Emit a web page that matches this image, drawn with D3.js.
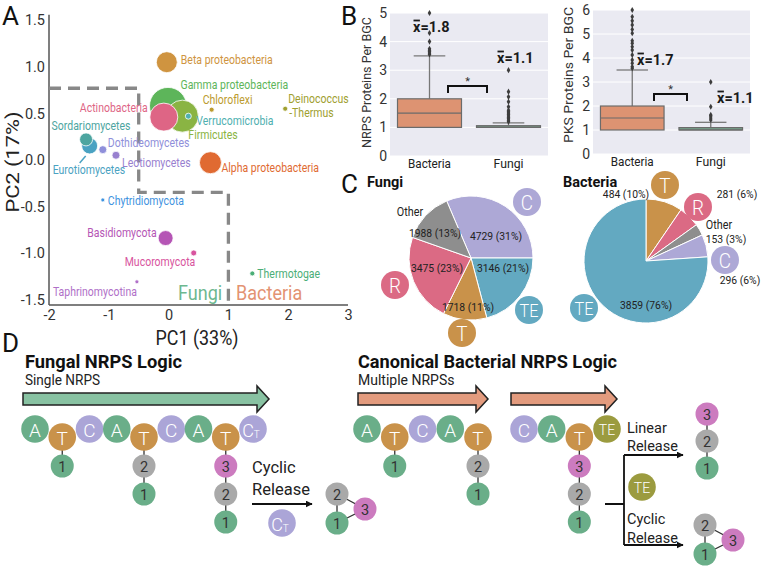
<!DOCTYPE html>
<html><head><meta charset="utf-8">
<script src="https://cdn.jsdelivr.net/npm/d3@7/dist/d3.min.js"></script>
<style>
html,body{margin:0;padding:0;background:#fff;}
svg{display:block;font-family:Roboto,"Noto Sans",sans-serif;}
</style></head>
<body>
<svg id="fig" width="762" height="567"></svg>
<script>
// ================= DATA =================
// Panel A : PCA of NRPS features per taxon
const taxa = ["Beta proteobacteria","Gamma proteobacteria","Firmicutes","Actinobacteria","Verrucomicrobia",
  "Chloroflexi","Deinococcus-Thermus","Alpha proteobacteria","Eurotiomycetes","Sordariomycetes",
  "Dothideomycetes","Leotiomycetes","Chytridiomycota","Basidiomycota","Mucoromycota","Thermotogae","Taphrinomycotina"];
const pc1 = [-0.03,-0.01,0.23,-0.08,0.33,0.72,1.95,0.70,-1.32,-1.38,-1.10,-0.88,-1.10,-0.05,0.42,1.40,-0.53];
const pc2 = [1.05,0.58,0.47,0.46,0.47,0.54,0.55,-0.03,0.15,0.22,0.11,0.05,-0.43,-0.84,-1.00,-1.22,-1.31];
const bgcCount = [441,1369,1024,784,36,25,25,484,256,169,64,64,16,225,36,25,16];
const pcaXTicks = [-2,-1,0,1,2,3];
const pcaYTicks = [-1.5,-1,-0.5,0,0.5,1,1.5];
const boundaryPC1 = [-2,-0.5,-0.5,1,1];
const boundaryPC2 = [0.77,0.77,-0.35,-0.35,-1.56];

// Panel B : proteins per BGC
const boxGroups = ["Bacteria","Fungi"];
const nrpsQ1 = [1,1], nrpsMedian = [1.5,1.0], nrpsQ3 = [2,1.06], nrpsWhiskerHigh = [3.5,1.16], nrpsMean = [1.8,1.1];
const nrpsOutliersBacteria = [3.55,3.6,3.65,3.7,3.75,4.0,4.3,5.0];
const nrpsOutliersFungi = [1.2,1.25,1.3,1.35,1.4,1.45,1.5,1.55,1.6,1.72,1.9,2.07,2.25,3.0];
const pksQ1 = [1,1], pksMedian = [1.5,1.0], pksQ3 = [2,1.1], pksWhiskerHigh = [3.5,1.32], pksMean = [1.7,1.1];
const pksOutliersBacteria = [3.57,3.64,3.78,3.92,4.13,4.33,4.47,4.61,4.72,5.03,5.19,5.38,5.55,5.72,6.0];
const pksOutliersFungi = [1.42,1.5,1.58,1.63,1.97,3.0];

// Panel C : termination domains
const fungiTermLabels = ["C","TE","T","R","Other"];
const fungiTermCounts = [4729,3146,1718,3475,1988];
const bactTermLabels = ["T","R","Other","C","TE"];
const bactTermCounts = [484,281,153,296,3859];

// Panel D : NRPS logic
const fungalDomains = ["A","T","C","A","T","C","A","T","CT"];
const fungalChains = [[1],[2,1],[3,2,1]];
const bactModule1 = ["A","T","C","A","T"];
const bactChains1 = [[1],[2,1]];
const bactModule2 = ["C","A","T","TE"];
const bactChains2 = [[3,2,1]];
const linearProduct = [3,2,1];
const cyclicProduct = [2,1,3];

// ================= STYLE / LAYOUT =================
const taxonColor = ["#CF9440","#5DB55A","#8AB443","#DE6585","#4FB0B0","#BC9B2F","#A0A030","#E06A32",
  "#4AA2C2","#4DA5A0","#8F8FDA","#9880CF","#3F93E0","#B555B5","#D8549E","#4BAE77","#B070C8"];
const labelDx = [14,12.5,6,-16,8,-9,3,11,-37,-34.5,5,6,5,-9,-69,5,-84];
const labelDy = [-3,-21,18.5,-9.5,4.5,-10,-10,5,24,-13.5,-7,7,1,-5,9,0,10];
const labelAnchor = ["start","start","start","end","start","start","start","start","start","start","start","start","start","end","start","start","start"];
const termColor = {C:"#ADA8D6",TE:"#63A9C1",T:"#C9924A",R:"#DB6A84",Other:"#8E8E8E"};
const domColor = {A:"#6AAE89",T:"#C9924A",C:"#ABA5D7",CT:"#ABA5D7",TE:"#9B9B3F"};
const numColor = {1:"#6AAE89",2:"#A9A9A9",3:"#CC7BBF"};

const svg = d3.select("#fig");
svg.append("rect").attr("width",762).attr("height",567).attr("fill","#fff");
const defs = svg.append("defs");
defs.append("marker").attr("id","ah").attr("viewBox","0 0 10 10").attr("refX",9).attr("refY",5)
  .attr("markerWidth",7).attr("markerHeight",7).attr("markerUnits","userSpaceOnUse").attr("orient","auto")
  .append("path").attr("d","M0,0L10,5L0,10Z").attr("fill","#111");

function label(g, x, y, s, o={}) {
  let tr = `translate(${x},${y})`;
  if (o.rot) tr += ` rotate(${o.rot})`;
  if (o.sx && o.sx !== 1) tr += o.rot ? ` scale(1,${o.sx})` : ` scale(${o.sx},1)`;
  const t = g.append("text").attr("transform", tr)
    .attr("text-anchor", o.anchor || "start")
    .attr("font-size", o.size || 12)
    .attr("font-weight", o.weight || 400)
    .attr("fill", o.fill || "#222")
    .text(s);
  if (o.len) t.attr("textLength", o.len).attr("lengthAdjust","spacingAndGlyphs");
  if (o.mid) t.attr("dominant-baseline","central");
  return t;
}

// panel letters
label(svg,2,25,"A",{size:26,fill:"#111"});
label(svg,341,25,"B",{size:26,fill:"#111"});
label(svg,341,193,"C",{size:26,fill:"#111"});
label(svg,2,352,"D",{size:26,fill:"#111"});

// ================= PANEL A =================
const gA = svg.append("g");
const ax = d3.scaleLinear().domain([-2,3]).range([49,348]);
const ay = d3.scaleLinear().domain([-1.5,1.5]).range([299.5,20.3]);
const ar = d3.scaleSqrt().domain([0,1369]).range([0,18.5]);

gA.append("line").attr("x1",ax(-2)).attr("x2",ax(-2)).attr("y1",ay(1.56)).attr("y2",ay(-1.56)).attr("stroke","#555").attr("stroke-width",1.5);
gA.append("line").attr("x1",ax(-2)).attr("x2",ax(3)).attr("y1",ay(-1.56)).attr("y2",ay(-1.56)).attr("stroke","#555").attr("stroke-width",1.5);
const xa = gA.append("g").attr("transform",`translate(0,${ay(-1.56)})`)
  .call(d3.axisBottom(ax).tickValues(pcaXTicks).tickSize(0).tickPadding(5).tickFormat(d=>String(d)));
xa.select(".domain").remove();
xa.attr("font-family",null).attr("font-size",14.5).selectAll("text").attr("fill","#333");
const ya = gA.append("g").attr("transform",`translate(${ax(-2)},0)`)
  .call(d3.axisLeft(ay).tickValues(pcaYTicks).tickSize(0).tickPadding(4).tickFormat(d=>d.toFixed(1)));
ya.select(".domain").remove();
ya.attr("font-family",null).attr("font-size",14.5).selectAll("text").attr("fill","#333");

label(gA,197,345,"PC1 (33%)",{size:20,anchor:"middle",len:83,fill:"#222"});
label(gA,19,162,"PC2 (17%)",{size:21,anchor:"middle",len:101,rot:-90,sx:0.85,fill:"#222"});

// boundary
const bLine = d3.line().x(d=>ax(d[0])).y(d=>ay(d[1]));
gA.append("path").attr("d", bLine(boundaryPC1.map((v,i)=>[v,boundaryPC2[i]])))
  .attr("fill","none").attr("stroke","#888").attr("stroke-width",3.3).attr("stroke-dasharray","12,7");

// bubbles
const order = d3.range(taxa.length).sort((a,b)=>bgcCount[b]-bgcCount[a]);
gA.selectAll("circle.tx").data(order).join("circle").attr("class","tx")
  .attr("cx",i=>ax(pc1[i])).attr("cy",i=>ay(pc2[i])).attr("r",i=>ar(bgcCount[i]))
  .attr("fill",i=>taxonColor[i]).attr("stroke","#fff").attr("stroke-width",0.8);
// Eurotiomycetes pointer
const ie = taxa.indexOf("Eurotiomycetes");
gA.append("line").attr("x1",ax(pc1[ie])-10).attr("y1",ay(pc2[ie])+17).attr("x2",ax(pc1[ie])-4).attr("y2",ay(pc2[ie])+10)
  .attr("stroke",taxonColor[ie]).attr("stroke-width",1.5);
taxa.forEach((t,i)=>{
  const x = ax(pc1[i])+labelDx[i], y = ay(pc2[i])+labelDy[i];
  if (t === "Deinococcus-Thermus") {
    label(gA,x,y,"Deinococcus",{size:12.5,sx:0.84,fill:taxonColor[i],mid:true});
    label(gA,x+1,y+14,"-Thermus",{size:12.5,sx:0.84,fill:taxonColor[i],mid:true});
  } else {
    label(gA,x,y,t,{size:12.5,sx:0.84,fill:taxonColor[i],anchor:labelAnchor[i],mid:true});
  }
});
label(gA,178,300,"Fungi",{size:21,sx:0.86,fill:"#6DB890"});
label(gA,236,300,"Bacteria",{size:21,sx:0.86,fill:"#E39373"});

// ================= PANEL B =================
function boxPanel(cfg) {
  const g = svg.append("g");
  const x = d3.scaleBand().domain(boxGroups).range([cfg.left,cfg.right]);
  const y = d3.scaleLinear().domain([0,cfg.max]).range([cfg.bottom,cfg.top]);
  g.append("rect").attr("x",cfg.left).attr("y",cfg.top).attr("width",cfg.right-cfg.left).attr("height",cfg.bottom-cfg.top).attr("fill","#EAEAF2");
  const ticks = d3.range(0,cfg.max+1);
  g.selectAll("line.grid").data(ticks).join("line").attr("class","grid")
    .attr("x1",cfg.left).attr("x2",cfg.right).attr("y1",d=>y(d)).attr("y2",d=>y(d)).attr("stroke","#fff").attr("stroke-width",1);
  const yAx = g.append("g").attr("transform",`translate(${cfg.left},0)`).call(d3.axisLeft(y).tickValues(ticks).tickSize(0).tickPadding(3).tickFormat(d3.format("d")));
  yAx.select(".domain").remove();
  yAx.attr("font-family",null).attr("font-size",14).selectAll("text").attr("fill","#333");
  const xAx = g.append("g").attr("transform",`translate(0,${cfg.bottom})`).call(d3.axisBottom(x).tickSize(0).tickPadding(2));
  xAx.select(".domain").remove();
  xAx.attr("font-family",null).attr("font-size",13.5).selectAll("text").attr("fill","#222");
  xAx.selectAll(".tick text").each(function(d){ d3.select(this).attr("textLength", d==="Bacteria"?43:30).attr("lengthAdjust","spacingAndGlyphs"); });
  label(g,cfg.titleX,(cfg.top+cfg.bottom)/2-cfg.titleShift,cfg.title,{size:13,anchor:"middle",rot:-90,len:cfg.titleLen,fill:"#333"});
  const bw = x.bandwidth()*0.81, cw = x.bandwidth()*0.2;
  const fills = ["#DD9372","#76A38B"];
  boxGroups.forEach((grp,i)=>{
    const cx = x(grp)+x.bandwidth()/2;
    g.append("line").attr("x1",cx).attr("x2",cx).attr("y1",y(cfg.q3[i])).attr("y2",y(cfg.whi[i])).attr("stroke","#777").attr("stroke-width",1.3);
    g.append("line").attr("x1",cx-cw).attr("x2",cx+cw).attr("y1",y(cfg.whi[i])).attr("y2",y(cfg.whi[i])).attr("stroke","#777").attr("stroke-width",1.3);
    g.append("rect").attr("x",cx-bw/2).attr("width",bw).attr("y",y(cfg.q3[i])).attr("height",Math.max(1,y(cfg.q1[i])-y(cfg.q3[i])))
      .attr("fill",fills[i]).attr("stroke","#6b6b6b").attr("stroke-width",1.2);
    g.append("line").attr("x1",cx-bw/2).attr("x2",cx+bw/2).attr("y1",y(cfg.med[i])).attr("y2",y(cfg.med[i])).attr("stroke","#6b6b6b").attr("stroke-width",1.2);
    const outs = i===0?cfg.outB:cfg.outF;
    g.selectAll(null).data(outs).join("path")
      .attr("transform",d=>`translate(${cx},${y(d)})`)
      .attr("d",d3.symbol(d3.symbolDiamond,11)).attr("fill","#3d3d3d");
    const [mx,my] = cfg.meanPos[i];
    const t = g.append("text").attr("x",mx).attr("y",my).attr("font-size",14.5).attr("font-weight",700).attr("fill","#1a1a1a").text("x=" + cfg.mean[i].toFixed(1));
    const e = t.node().getExtentOfChar(0);
    g.append("line").attr("x1",e.x+0.5).attr("x2",e.x+e.width-0.5).attr("y1",my-11.5).attr("y2",my-11.5).attr("stroke","#1a1a1a").attr("stroke-width",1.8);
  });
  const [b0,b1,by] = cfg.bracket;
  g.append("path").attr("d",`M${b0},${by+7}V${by}H${b1}V${by+7}`).attr("fill","none").attr("stroke","#111").attr("stroke-width",2);
  label(g,(b0+b1)/2,by-1,"*",{size:11,anchor:"middle",fill:"#333"});
}
boxPanel({left:390,right:548,top:13,bottom:156,max:5,q1:nrpsQ1,q3:nrpsQ3,med:nrpsMedian,whi:nrpsWhiskerHigh,
  outB:nrpsOutliersBacteria,outF:nrpsOutliersFungi,mean:nrpsMean,meanPos:[[413,32],[497,63]],
  bracket:[448,487,86],title:"NRPS Proteins Per BGC",titleX:371,titleShift:2,titleLen:131});
boxPanel({left:593,right:750,top:10,bottom:154,max:6,q1:pksQ1,q3:pksQ3,med:pksMedian,whi:pksWhiskerHigh,
  outB:pksOutliersBacteria,outF:pksOutliersFungi,mean:pksMean,meanPos:[[637,65],[717,103]],
  bracket:[654,687,94],title:"PKS Proteins Per BGC",titleX:573,titleShift:7,titleLen:136});

// ================= PANEL C =================
function pieChart(cfg) {
  const g = svg.append("g").attr("transform",`translate(${cfg.cx},${cfg.cy})`);
  const total = d3.sum(cfg.counts);
  const pie = d3.pie().sort(null).value(d=>d).startAngle(cfg.start).endAngle(cfg.start+2*Math.PI);
  const arc = d3.arc().innerRadius(0).outerRadius(cfg.r);
  const arcs = pie(cfg.counts);
  g.selectAll("path").data(arcs).join("path").attr("d",arc)
    .attr("fill",(d,i)=>termColor[cfg.labels[i]]).attr("stroke","#fff").attr("stroke-width",1);
  arcs.forEach((a,i)=>{
    const [dx,dy] = cfg.textPos[i];
    const pct = Math.round(100*cfg.counts[i]/total);
    label(g,dx,dy,`${cfg.counts[i]} (${pct}%)`,{size:11.5,anchor:"middle",mid:true,sx:0.9,fill:"#222"});
    if (cfg.labels[i]==="Other") {
      const [ox,oy] = cfg.otherPos;
      label(g,ox,oy,"Other",{size:12,anchor:"middle",mid:true,sx:0.9,fill:"#222"});
    } else {
      const [kx,ky] = cfg.keyPos[i];
      g.append("circle").attr("cx",kx).attr("cy",ky).attr("r",14).attr("fill",termColor[cfg.labels[i]]);
      label(g,kx,ky+1,cfg.labels[i],{size:cfg.labels[i]==="TE"?18:21,anchor:"middle",mid:true,fill:"#fff",sx:0.9,weight:300});
    }
  });
  label(svg,cfg.titleX,187,cfg.title,{size:14.5,weight:700,fill:"#111"});
}
const fungiTotal = d3.sum(fungiTermCounts);
pieChart({cx:471,cy:258,r:62,labels:fungiTermLabels,counts:fungiTermCounts,
  start:Math.PI/2 - 2*Math.PI*fungiTermCounts[0]/fungiTotal,
  textPos:[[25,-22],[32,10],[-3,49],[-34,10],[-36,-25]],
  keyPos:[[56,-56],[58,52],[-9,75],[-76,27],null],otherPos:[-61,-46],title:"Fungi",titleX:367});
pieChart({cx:646,cy:261,r:62,labels:bactTermLabels,counts:bactTermCounts,start:0,
  textPos:[[-20,-67],[91,-67],[80,-22],[94,19],[0,44]],
  keyPos:[[19,-76],[52,-54],null,[79,-1],[-62,47]],otherPos:[73,-36],title:"Bacteria",titleX:563});

// ================= PANEL D =================
const gD = svg.append("g");
label(gD,25,368,"Fungal NRPS Logic",{size:18,weight:700,fill:"#111",len:157});
label(gD,25,385,"Single NRPS",{size:14,fill:"#222",len:75});
label(gD,358,368,"Canonical Bacterial NRPS Logic",{size:18,weight:700,fill:"#111",len:259});
label(gD,358,385,"Multiple NRPSs",{size:14,fill:"#222"});

function geneArrow(x0,x1,fill){
  const yT=393,yB=405,hT=386,hB=412,yM=399,neck=x1-12;
  gD.append("path").attr("d",`M${x0},${yT}H${neck}V${hT}L${x1},${yM}L${neck},${hB}V${yB}H${x0}Z`)
    .attr("fill",fill).attr("stroke","#222").attr("stroke-width",1.5);
}
geneArrow(23,269,"#88C2A2");
geneArrow(358,488,"#E39B7E");
geneArrow(511,617,"#E39B7E");

const chainY = d3.scaleLinear().domain([0,1]).range([466,494]);
function numCircle(x,y,n){
  gD.append("circle").attr("cx",x).attr("cy",y).attr("r",11.5).attr("fill",numColor[n]);
  label(gD,x,y+1,String(n),{size:14.5,anchor:"middle",mid:true,fill:"#333"});
}
function domainCircle(x,y,d){
  gD.append("circle").attr("cx",x).attr("cy",y).attr("r",13.8).attr("fill",domColor[d]);
  if (d==="CT") {
    const t = gD.append("text").attr("x",x-2).attr("y",y+1).attr("text-anchor","middle").attr("dominant-baseline","central").attr("fill","#fff").attr("font-size",18).attr("font-weight",300).text("C");
    t.append("tspan").attr("font-size",10).attr("dy",4).text("T");
  } else {
    label(gD,x,y+1,d,{size:d==="TE"?14:19,anchor:"middle",mid:true,fill:"#fff",weight:300});
  }
}
function domainRow(list,x0,x1,chains){
  const xs = d3.scalePoint().domain(d3.range(list.length)).range([x0,x1]);
  const tIdx = list.map((d,i)=>d==="T"?i:-1).filter(i=>i>=0);
  tIdx.forEach((ti,k)=>{
    const ch = chains[k]; if(!ch) return;
    gD.append("line").attr("x1",xs(ti)).attr("x2",xs(ti)).attr("y1",437).attr("y2",chainY(ch.length-1)).attr("stroke","#333").attr("stroke-width",1.3);
    ch.forEach((n,j)=>numCircle(xs(ti),chainY(j),n));
  });
  list.forEach((d,i)=>{ if(d!=="T") domainCircle(xs(i),429,d); });
  list.forEach((d,i)=>{ if(d==="T") domainCircle(xs(i),437,d); });
  return xs;
}
domainRow(fungalDomains,35,253,fungalChains);
domainRow(bactModule1,367,478,bactChains1);
domainRow(bactModule2,524,607,bactChains2);

function cyclic(x,y){
  const pos = [[x,y],[x,y+29],[x+28,y+15]];
  gD.append("path").attr("d",`M${pos[0][0]},${pos[0][1]}L${pos[1][0]},${pos[1][1]}L${pos[2][0]},${pos[2][1]}Z`).attr("fill","none").attr("stroke","#333").attr("stroke-width",1.3);
  cyclicProduct.forEach((n,i)=>numCircle(pos[i][0],pos[i][1],n));
}
// fungal release
label(gD,252,473,"Cyclic",{size:16.5,fill:"#222"});
label(gD,252,495,"Release",{size:16.5,fill:"#222"});
gD.append("line").attr("x1",252).attr("x2",312).attr("y1",504).attr("y2",504).attr("stroke","#111").attr("stroke-width",1.8).attr("marker-end","url(#ah)");
domainCircle(282,523,"CT");
cyclic(337,494);

// bacterial release
gD.append("path").attr("d","M605,504H624M624,455V545").attr("fill","none").attr("stroke","#111").attr("stroke-width",1.8);
gD.append("line").attr("x1",624).attr("x2",683).attr("y1",455).attr("y2",455).attr("stroke","#111").attr("stroke-width",1.8).attr("marker-end","url(#ah)");
gD.append("line").attr("x1",624).attr("x2",683).attr("y1",545).attr("y2",545).attr("stroke","#111").attr("stroke-width",1.8).attr("marker-end","url(#ah)");
label(gD,627,433,"Linear",{size:14.5,fill:"#222"});
label(gD,627,451,"Release",{size:14.5,fill:"#222"});
label(gD,627,524,"Cyclic",{size:14.5,fill:"#222"});
label(gD,627,543,"Release",{size:14.5,fill:"#222"});
domainCircle(642,487,"TE");
const linY = d3.scaleLinear().domain([0,1]).range([414,441]);
gD.append("line").attr("x1",707).attr("x2",707).attr("y1",linY(0)).attr("y2",linY(linearProduct.length-1)).attr("stroke","#333").attr("stroke-width",1.3);
linearProduct.forEach((n,i)=>numCircle(707,linY(i),n));
cyclic(705,525);
</script>
</body></html>
